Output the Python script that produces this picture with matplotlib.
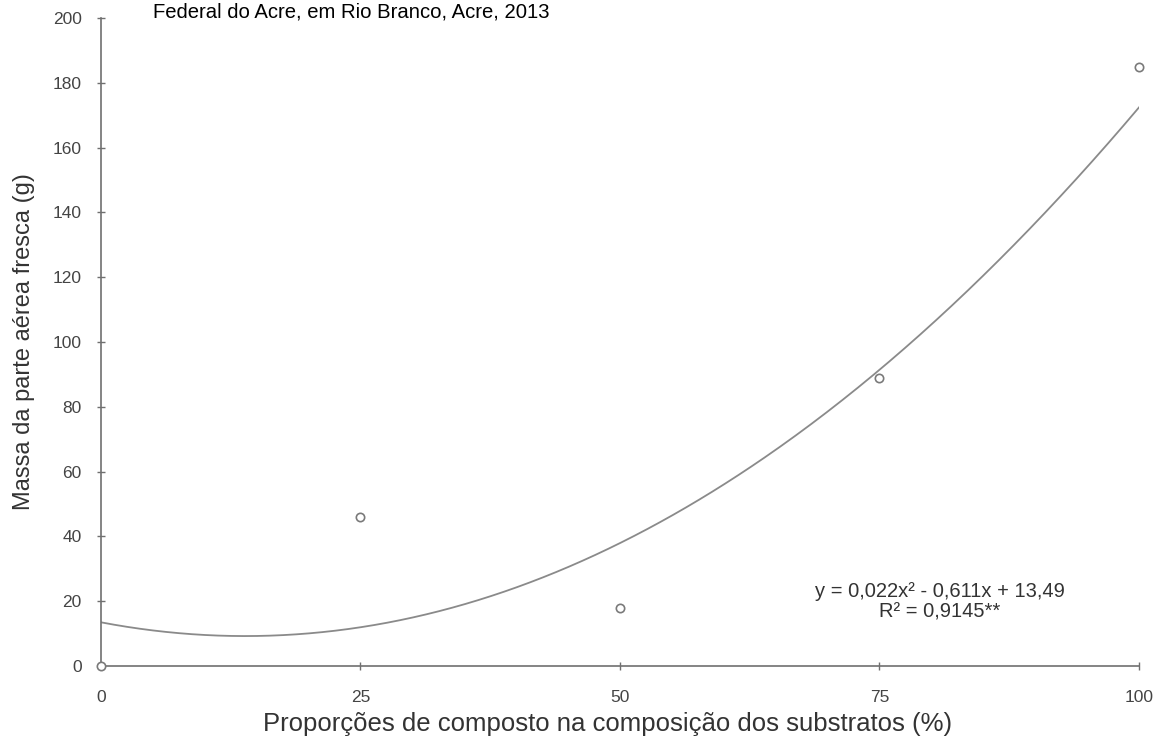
import numpy as np
import matplotlib
matplotlib.use("Agg")
import matplotlib.pyplot as plt

plt.rcParams['font.family'] = ['Liberation Sans', 'DejaVu Sans']

# Observed means per compost proportion
proportions = [0, 25, 50, 75, 100]
fresh_mass = [0.0, 46.0, 18.0, 89.0, 185.0]

# Fitted quadratic regression
coef_a, coef_b, coef_c = 0.022, -0.611, 13.49
r_squared_label = "R² = 0,9145**"
equation_label = "y = 0,022x² - 0,611x + 13,49"

x_ticks = [0, 25, 50, 75, 100]
y_ticks = [0, 20, 40, 60, 80, 100, 120, 140, 160, 180, 200]

grey = '#707070'

fig = plt.figure(figsize=(11.66, 7.47), dpi=100)
ax = fig.add_axes([0.0866, 0.1084, 0.8902, 0.8675])

xs = np.linspace(0, 100, 400)
ax.plot(xs, coef_a * xs**2 + coef_b * xs + coef_c, color='#8a8a8a', lw=1.3, zorder=2)
ax.plot(proportions, fresh_mass, 'o', mfc='white', mec='#7a7a7a', mew=1.2, ms=6, zorder=3, clip_on=False)

ax.set_xlim(0, 100)
ax.set_ylim(0, 200)
ax.set_xticks(x_ticks)
ax.set_yticks(y_ticks)
for side in ('top', 'right'):
    ax.spines[side].set_visible(False)
for side in ('left', 'bottom'):
    ax.spines[side].set_color(grey)
    ax.spines[side].set_linewidth(1.2)
ax.tick_params(axis='both', direction='inout', length=6, width=1, color=grey,
               labelsize=12.5, labelcolor='#444444')
ax.tick_params(axis='x', pad=14)
ax.tick_params(axis='y', pad=11)

ax.set_xlabel("Proporções de composto na composição dos substratos (%)",
              fontsize=18.5, color='#333333')
ax.xaxis.set_label_coords(0.488, -0.071)
ax.set_ylabel("Massa da parte aérea fresca (g)", fontsize=17, color='#333333')
ax.yaxis.set_label_coords(-0.0636, 0.5)

ax.text(80.8, 22.9, equation_label, ha='center', va='center', fontsize=14.5, color='#333333')
ax.text(80.8, 16.6, r_squared_label, ha='center', va='center', fontsize=14.5, color='#333333')

fig.text(0.131, 0.977, "Federal do Acre, em Rio Branco, Acre, 2013",
         ha='left', va='baseline', fontsize=14.6, color='black')

fig.savefig("out.png", dpi=100)
